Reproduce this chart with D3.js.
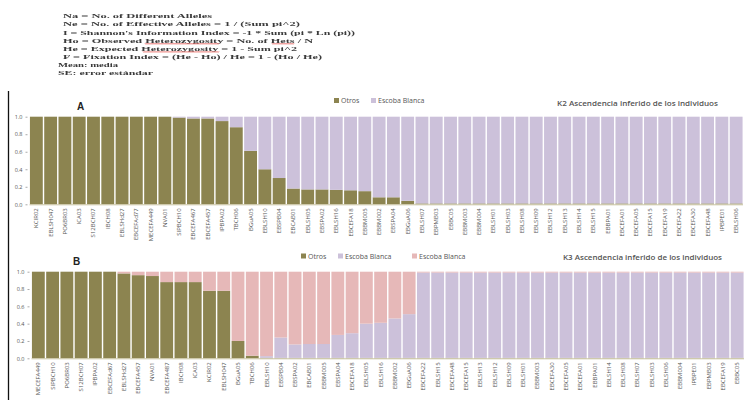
<!DOCTYPE html>
<html lang="es">
<head>
<meta charset="UTF-8">
<title>Ascendencia inferido de los individuos</title>
<script src="https://d3js.org/d3.v7.min.js"></script>
<style>
  body { margin: 0; background: #fff; }
  svg { display: block; }
  .notes text { font-family: "Liberation Serif", serif; font-size: 7px; font-weight: bold; fill: #3a3a3a; }
  .notes { filter: blur(0.35px); }
  .lbl { font-family: "Open Sans", "Liberation Sans", sans-serif; fill: #555; }
</style>
</head>
<body>
<svg id="chart" width="755" height="400"></svg>
<script>
// notas de la tabla superior
const notes = [
  "Na = No. of Different  Alleles",
  "Ne = No. of Effective  Alleles = 1 / (Sum pi^2)",
  "I = Shannon's Information  Index = -1 * Sum (pi * Ln (pi))",
  "Ho = Observed Heterozygosity = No. of Hets / N",
  "He = Expected Heterozygosity = 1 - Sum pi^2",
  "F = Fixation Index = (He - Ho) / He = 1 - (Ho / He)",
  "Mean: media",
  "SE: error estándar"
];
const noteWidths = [149, 237, 292, 250, 234, 259, 60, 95];

// K2
const namesA = ["KCIR02","EBLSH047","PO6BR03","ICA03","S12BCH07","IBCH08","EBLSHd27","EBCEFAd77",
  "MECEFA449","NVA01","SIPBCH10","EBCEFA467","EBCEFA457","IPBPA02","TBCH06","BGuA05","EBLSH10",
  "EBSPB04","EBCAB01","EBLSH05","EBSPA02","EBLSH16","EBCEFA18","EBBM005","EBBM002","EBSPA04",
  "EBGuA06","EBLSH07","EBPMB03","EBBC05","EBBM003","EBBM004","EBLSH01","EBLSH03","EBLSH08",
  "EBLSH09","EBLSH12","EBLSH13","EBLSH14","EBLSH15","EBBPA01","EBCEFA01","EBCEFA05","EBCEFA15",
  "EBCEFA19","EBCEFA22","EBCEFA30","EBCEFA48","IPBPE01","EBLSH06"];
const otrosA = [1,1,1,1,1,1,1,1,1,1,0.99,0.98,0.98,0.95,0.88,0.61,0.40,0.30,0.18,0.17,0.17,0.165,
  0.16,0.15,0.08,0.08,0.04,0.01,0.01,0.01,0.01,0.01,0.01,0.01,0.01,0.01,0.01,0.01,0.01,0.01,
  0.01,0.01,0.01,0.01,0.01,0.01,0.01,0.01,0.01,0.01];

// K3
const namesB = ["MECEFA449","SIPBCH10","PO6BR03","S12BCH07","IPBPA02","EBCEFAd67","EBLSHd27",
  "EBCEFA457","NVA01","EBCEFA487","IBCH08","ICA03","KCIR02","EBLSH047","BGuA05","TBCH06","EBLSH10",
  "EBSPB04","EBSPA02","EBCAB01","EBBM005","EBSPA04","EBCEFA18","EBLSH05","EBLSH16","EBBM002",
  "EBGuA06","EBCEFA22","EBLSH15","EBCEFA48","EBCEFA15","EBLSH13","EBLSH12","EBLSH09","EBLSH01",
  "EBBM003","EBCEFA30","EBCEFA05","EBCEFA01","EBBPA01","EBLSH14","EBLSH08","EBLSH07","EBLSH03",
  "EBLSH06","EBBM004","IPBPE01","EBPMB03","EBCEFA19","EBBC05"];
const otrosB = [1,1,1,1,1,1,0.98,0.96,0.95,0.88,0.88,0.88,0.78,0.78,0.20,0.03,0.005,0.005,0.005,
  0.005,0.005,0.005,0.005,0.005,0.005,0.005,0.005,0.005,0.005,0.005,0.005,0.005,0.005,0.005,0.005,
  0.005,0.005,0.005,0.005,0.005,0.005,0.005,0.005,0.005,0.005,0.005,0.005,0.005,0.005,0.005];
const escobaB = [0,0,0,0,0,0,0,0,0,0,0,0,0,0,0,0,0.02,0.235,0.155,0.16,0.16,0.265,0.285,0.395,
  0.405,0.455,0.505,0.985,0.985,0.985,0.985,0.985,0.985,0.985,0.985,0.985,0.985,0.985,0.985,
  0.985,0.985,0.985,0.985,0.985,0.985,0.985,0.985,0.985,0.985,0.985];

const yTicks = [0, 0.2, 0.4, 0.6, 0.8, 1.0];
const colors = { otros: "#8c8450", escoba: "#ccc1da", escoba2: "#e6b8b8" };

const svg = d3.select("#chart");

// bloque de texto
const g0 = svg.append("g").attr("class", "notes");
notes.forEach((t, i) => {
  g0.append("text")
    .attr("x", i < 6 ? 63 : 58)
    .attr("y", 18.3 + i * 8.1)
    .attr("textLength", noteWidths[i])
    .attr("lengthAdjust", "spacingAndGlyphs")
    .text(t);
});
// subrayado ortográfico
function squiggle(x0, x1, y) {
  let d = `M${x0},${y}`;
  for (let x = x0; x < x1; x += 2) d += ` l1,1 l1,-1`;
  g0.append("path").attr("d", d).attr("fill", "none").attr("stroke", "#e0302a").attr("stroke-width", 0.7);
}
squiggle(145, 218, 43.3);
squiggle(272, 293, 43.3);
squiggle(143, 218, 51.4);

// línea vertical izquierda
svg.append("line").attr("x1", 8.5).attr("x2", 8.5).attr("y1", 91).attr("y2", 400)
  .attr("stroke", "#111").attr("stroke-width", 1.3);

function drawPanel(cfg) {
  const x = d3.scaleBand().domain(cfg.names).range(cfg.xr).paddingInner(0.1).paddingOuter(0.03);
  const y = d3.scaleLinear().domain([0, 1]).range(cfg.yr);
  const rows = cfg.names.map((n, i) => {
    const r = { name: n };
    cfg.keys.forEach(k => { r[k] = cfg.series[k][i]; });
    return r;
  });
  const stack = d3.stack().keys(cfg.keys)(rows);
  const g = svg.append("g");

  g.selectAll("g.layer").data(stack).enter().append("g")
    .attr("fill", d => colors[d.key])
    .selectAll("rect").data(d => d).enter().append("rect")
    .attr("x", d => x(d.data.name))
    .attr("width", x.bandwidth())
    .attr("y", d => y(d[1]))
    .attr("height", d => Math.max(0, y(d[0]) - y(d[1])));

  // eje y
  const ay = g.append("g").attr("transform", `translate(${cfg.xr[0] - 2},0)`)
    .call(d3.axisLeft(y).tickValues(yTicks).tickFormat(d3.format(".1f")).tickSize(2).tickPadding(3));
  ay.select(".domain").remove();
  ay.selectAll("line").attr("stroke", "#aaa");
  ay.selectAll("text").attr("class", "lbl").style("font-size", "5.5px").attr("fill", "#666");

  // línea base
  g.append("line").attr("x1", cfg.xr[0]).attr("x2", cfg.xr[1])
    .attr("y1", y(0) + 0.5).attr("y2", y(0) + 0.5).attr("stroke", "#c8c2a0");

  // etiquetas x
  g.selectAll("text.xl").data(cfg.names).enter().append("text")
    .attr("class", "lbl")
    .attr("transform", d => `translate(${x(d) + x.bandwidth() / 2 + 2},${y(0) + 4}) rotate(-90)`)
    .attr("text-anchor", "end")
    .style("font-size", "6px")
    .attr("fill", "#555")
    .text(d => d);

  // título panel
  g.append("text").attr("x", cfg.title[0]).attr("y", cfg.title[1])
    .style("font-family", "Liberation Sans, sans-serif").style("font-weight", "bold")
    .style("font-size", "10px").attr("fill", "#222").text(cfg.titleText);

  // leyenda
  cfg.legend.forEach(l => {
    g.append("rect").attr("x", l.x).attr("y", cfg.legY - 3).attr("width", 5).attr("height", 5)
      .attr("fill", colors[l.key]);
    g.append("text").attr("class", "lbl").attr("x", l.x + 7).attr("y", cfg.legY + 2)
      .style("font-size", "7px").attr("fill", "#555").text(l.text);
  });

  // título K
  g.append("text").attr("class", "lbl").attr("x", cfg.kTitle[0]).attr("y", cfg.kTitle[1])
    .style("font-size", "7.5px").style("font-weight", "600").attr("fill", "#333")
    .attr("textLength", cfg.kTitle[2]).attr("lengthAdjust", "spacingAndGlyphs")
    .text(cfg.kText);
}

drawPanel({
  names: namesA, keys: ["otros", "escoba"],
  series: { otros: otrosA, escoba: otrosA.map(v => 1 - v) },
  xr: [29.5, 743], yr: [204.3, 116.7],
  title: [77, 110], titleText: "A",
  legY: 101, legend: [{ key: "otros", x: 334, text: "Otros" }, { key: "escoba", x: 371, text: "Escoba Blanca" }],
  kTitle: [557, 105.5, 161], kText: "K2   Ascendencia inferido de los individuos"
});

drawPanel({
  names: namesB, keys: ["otros", "escoba", "escoba2"],
  series: { otros: otrosB, escoba: escobaB, escoba2: otrosB.map((v, i) => Math.max(0, 1 - v - escobaB[i])) },
  xr: [31.5, 744], yr: [358.3, 271.7],
  title: [73, 265], titleText: "B",
  legY: 256.5, legend: [{ key: "otros", x: 301, text: "Otros" }, { key: "escoba", x: 338, text: "Escoba Blanca" },
    { key: "escoba2", x: 412, text: "Escoba Blanca" }],
  kTitle: [563, 259.5, 159], kText: "K3   Ascendencia inferido de los individuos"
});
</script>
</body>
</html>
